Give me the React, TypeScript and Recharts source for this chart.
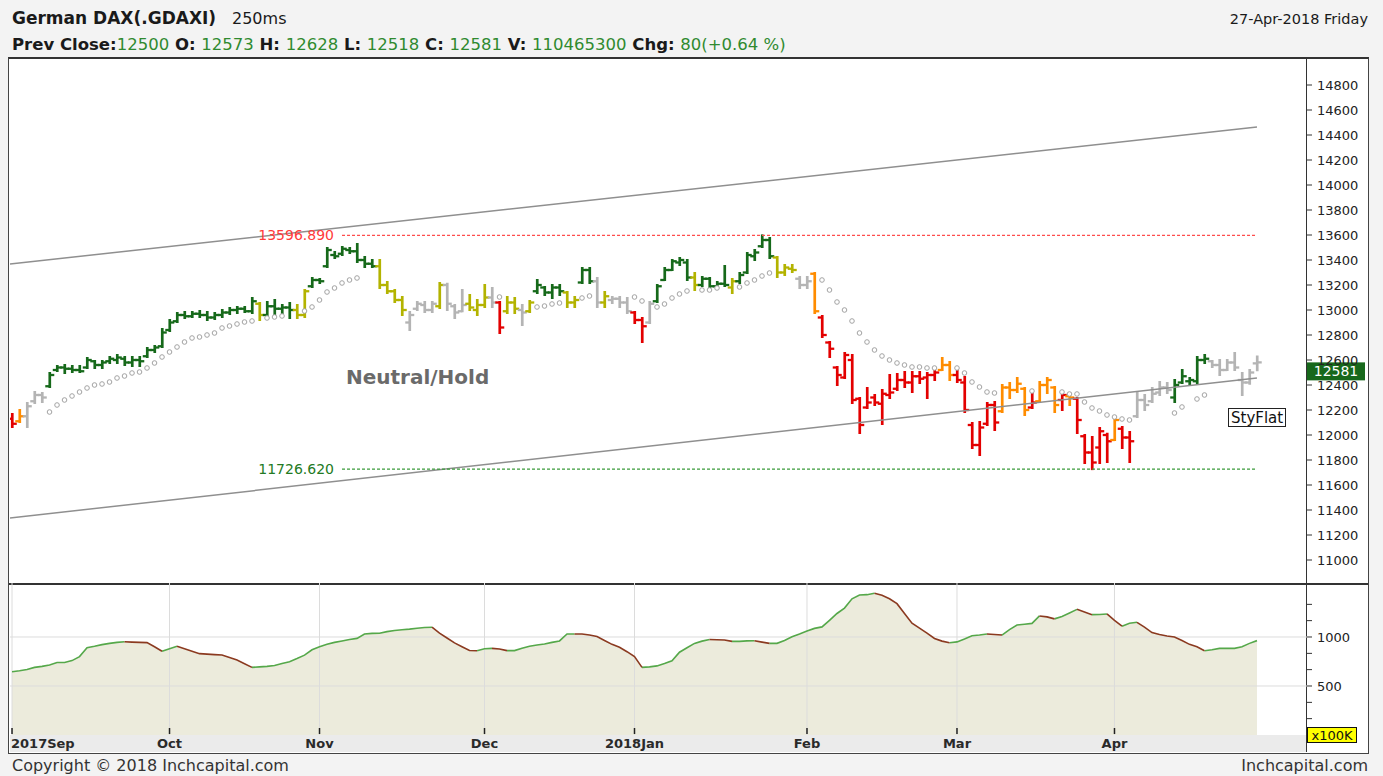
import React from 'react';
import { ComposedChart, Bar, Line, Area, XAxis, YAxis, ReferenceLine } from 'recharts';

const FONT = "'DejaVu Sans', Verdana, sans-serif";

// one letter per trading day: R red, O orange, Y olive, G green, N neutral grey
const signalRows =
  'RONNNGGGGG GGGGGGGGGG GGGGGGGGGG GGGYGGGGYY GGGGGGGGGY YYYNNNNYNN NYYYNRYYNY GGGGYYGGNY ' +
  'NNNRRNGGGG GYGGGGYGGG GGYYYNNORR RRRRRRRRRR RRRROORRRR RROOOOROOO RORRRRRORR NNNNNGGGGG NNNNNNN';
const signals = signalRows.replace(/ /g, '').split('');

const opens = [
  12130, 12110, 12150, 12270, 12320, 12390, 12520, 12540, 12530, 12520,
  12540, 12590, 12560, 12590, 12600, 12610, 12580, 12600, 12630, 12680,
  12710, 12840, 12910, 12960, 12950, 12970, 12960, 12940, 12960, 12980,
  13000, 13010, 12990, 13050, 12960, 13030, 13010, 13020, 13000, 12960,
  13190, 13240, 13350, 13440, 13450, 13480, 13470, 13400, 13370, 13350,
  13200, 13150, 13080, 12900, 13010, 13040, 13000, 13030, 13200, 13030,
  12990, 13050, 13000, 13040, 13100, 13060, 12990, 13060, 13000, 12990,
  13150, 13180, 13140, 13180, 13140, 13060, 13220, 13320, 13230, 13060,
  13080, 13090, 13060, 12980, 12920, 12900, 13070, 13240, 13320, 13380,
  13380, 13260, 13200, 13250, 13190, 13210, 13180, 13230, 13300, 13430,
  13510, 13560, 13420, 13300, 13330, 13250, 13200, 13290, 12940, 12740,
  12540, 12460, 12600, 12290, 12220, 12300, 12250, 12320, 12370, 12440,
  12420, 12470, 12460, 12480, 12520, 12560, 12480, 12420, 12080, 11920,
  12090, 12240, 12190, 12380, 12360, 12370, 12220, 12270, 12400, 12380,
  12280, 12310, 12290, 11990, 11860, 11900, 12000, 11960, 12050, 11980,
  12150, 12280, 12270, 12340, 12380, 12300, 12420, 12430, 12430, 12600,
  12590, 12560, 12520, 12580, 12440, 12420, 12573,
];

const highs = [
  12168, 12200, 12256, 12344, 12336, 12496, 12552, 12560, 12552, 12552,
  12616, 12592, 12592, 12624, 12640, 12624, 12624, 12624, 12696, 12712,
  12848, 12920, 12976, 12984, 12984, 12992, 12984, 12976, 13000, 13016,
  13024, 13024, 13096, 13056, 13064, 13080, 13040, 13056, 13040, 13160,
  13256, 13248, 13496, 13464, 13504, 13496, 13528, 13424, 13400, 13400,
  13224, 13160, 13104, 12984, 13064, 13064, 13064, 13216, 13210, 13040,
  13160, 13120, 13080, 13200, 13176, 13064, 13104, 13096, 13040, 13072,
  13240, 13184, 13200, 13200, 13144, 13104, 13336, 13336, 13256, 13144,
  13104, 13104, 13096, 12984, 12936, 13064, 13200, 13336, 13400, 13416,
  13400, 13296, 13264, 13256, 13224, 13352, 13248, 13296, 13456, 13480,
  13597, 13576, 13424, 13360, 13360, 13264, 13264, 13296, 12952, 12744,
  12544, 12656, 12640, 12296, 12376, 12320, 12360, 12480, 12488, 12504,
  12504, 12504, 12496, 12520, 12616, 12584, 12520, 12464, 12096, 12104,
  12256, 12264, 12400, 12416, 12456, 12376, 12360, 12424, 12456, 12384,
  12336, 12336, 12296, 12000, 11984, 12056, 12010, 12144, 12064, 12024,
  12336, 12320, 12376, 12424, 12416, 12440, 12520, 12456, 12624, 12640,
  12592, 12600, 12600, 12656, 12496, 12520, 12628,
];

const lows = [
  12064, 12104, 12064, 12256, 12264, 12384, 12512, 12496, 12504, 12504,
  12536, 12536, 12536, 12576, 12576, 12560, 12552, 12552, 12624, 12664,
  12704, 12832, 12904, 12936, 12944, 12944, 12920, 12928, 12944, 12968,
  12976, 12984, 12976, 12920, 12944, 12960, 12976, 12936, 12936, 12944,
  13184, 13216, 13344, 13416, 13440, 13456, 13384, 13344, 13344, 13176,
  13136, 13064, 12960, 12840, 13000, 12984, 12984, 13016, 13000, 12936,
  12990, 13000, 12960, 13024, 13024, 12816, 12976, 12976, 12880, 12984,
  13136, 13120, 13096, 13120, 13024, 13024, 13216, 13216, 13024, 13024,
  13056, 13024, 12976, 12896, 12744, 12896, 13064, 13240, 13320, 13360,
  13240, 13160, 13192, 13160, 13184, 13192, 13136, 13216, 13296, 13400,
  13504, 13416, 13264, 13280, 13304, 13176, 13176, 12976, 12784, 12624,
  12400, 12456, 12256, 12016, 12216, 12240, 12088, 12296, 12360, 12384,
  12344, 12416, 12296, 12440, 12520, 12440, 12424, 12184, 11896, 11840,
  12080, 12040, 12184, 12296, 12344, 12160, 12216, 12264, 12336, 12184,
  12200, 12240, 12016, 11776, 11727, 11776, 11784, 11960, 11896, 11784,
  12144, 12200, 12264, 12320, 12336, 12264, 12416, 12400, 12416, 12576,
  12544, 12480, 12520, 12520, 12320, 12410, 12518,
];

const closes = [
  12090, 12150, 12230, 12320, 12300, 12480, 12540, 12530, 12520, 12510,
  12600, 12560, 12580, 12610, 12620, 12580, 12600, 12590, 12680, 12700,
  12820, 12900, 12960, 12950, 12970, 12960, 12940, 12960, 12980, 13000,
  13010, 12990, 13070, 12960, 13030, 13010, 13020, 13000, 12960, 13150,
  13240, 13230, 13480, 13430, 13490, 13470, 13400, 13370, 13350, 13200,
  13150, 13080, 13000, 12960, 13050, 13000, 13050, 13200, 13050, 12980,
  13040, 13020, 13040, 13100, 13060, 12860, 13060, 13010, 12980, 13060,
  13200, 13140, 13180, 13150, 13060, 13080, 13320, 13230, 13060, 13110,
  13090, 13060, 12990, 12920, 12870, 13050, 13190, 13320, 13390, 13400,
  13260, 13200, 13250, 13190, 13210, 13200, 13230, 13280, 13440, 13460,
  13560, 13430, 13300, 13340, 13320, 13200, 13230, 12990, 12800, 12690,
  12480, 12640, 12280, 12080, 12260, 12260, 12330, 12340, 12440, 12420,
  12470, 12450, 12480, 12500, 12560, 12480, 12440, 12200, 11920, 12060,
  12240, 12100, 12380, 12360, 12410, 12200, 12260, 12400, 12440, 12240,
  12320, 12300, 12120, 11860, 11780, 12030, 11950, 12120, 11980, 11950,
  12280, 12240, 12330, 12380, 12360, 12400, 12470, 12440, 12600, 12610,
  12560, 12520, 12580, 12540, 12420, 12500, 12581,
];

// trailing average dots (blank where the picture shows none)
const maLine = [
  null, null, null, null, null, 12184, 12240, 12280, 12312, 12344,
  12376, 12400, 12408, 12424, 12456, 12472, 12496, 12504, 12536, 12576,
  12624, 12664, 12704, 12744, 12776, 12784, 12800, 12816, 12856, 12872,
  12888, 12904, 12912, null, 12936, 12944, 12952, null, null, 12992,
  13024, 13080, 13144, 13176, 13216, 13240, 13256, null, null, null,
  null, null, null, null, null, null, null, null, null, null,
  null, null, null, null, null, 13104, null, null, null, null,
  13024, 13032, 13048, 13056, null, null, 13096, 13112, null, null,
  null, null, null, 13104, 13072, null, 13024, 13048, 13096, 13128,
  13152, null, 13160, 13160, 13176, null, null, 13184, 13216, 13240,
  13272, 13296, null, null, null, null, null, null, 13240, 13160,
  13064, 13000, 12912, 12816, 12744, 12680, 12632, 12600, 12576, 12560,
  12544, 12544, 12536, 12536, null, null, 12536, 12496, 12424, 12384,
  12344, 12336, null, null, null, null, 12352, null, null, null,
  12344, 12328, 12328, 12264, 12216, 12192, 12160, 12144, 12128, 12120,
  null, null, null, null, null, 12176, 12224, null, 12288, 12320,
  null, null, null, null, null, null, null,
];

// smoothed volume, x100K
const volume = [
  646, 655, 668, 690, 700, 715, 740, 740, 759, 800,
  890, 905, 922, 935, 945, 952, 948, 945, 943, 900,
  855, 880, 905, 880, 855, 830, 825, 820, 816, 790,
  765, 728, 690, 695, 700, 710, 730, 748, 780, 815,
  870, 900, 925, 945, 960, 975, 986, 1030, 1037, 1038,
  1055, 1066, 1074, 1080, 1090, 1097, 1100, 1040, 990, 940,
  900, 862, 860, 880, 884, 878, 861, 861, 885, 905,
  918, 929, 945, 960, 1031, 1031, 1030, 1020, 1005, 965,
  925, 895, 850, 800, 690, 695, 705, 730, 758, 845,
  890, 935, 958, 975, 972, 969, 955, 955, 960, 962,
  948, 935, 935, 965, 1003, 1030, 1060, 1088, 1103, 1170,
  1240, 1295, 1390, 1429, 1432, 1446, 1425, 1390, 1340, 1240,
  1140, 1090, 1040, 985, 958, 942, 950, 980, 1012, 1020,
  1030, 1025, 1020, 1075, 1122, 1130, 1139, 1215, 1205, 1185,
  1210, 1245, 1282, 1255, 1228, 1230, 1235, 1170, 1110, 1140,
  1150, 1100, 1045, 1025, 1010, 1000, 965, 925, 900, 860,
  870, 884, 884, 884, 900, 935, 963,
];

const priceTicks = [11000, 11200, 11400, 11600, 11800, 12000, 12200, 12400, 12600, 12800, 13000, 13200, 13400, 13600, 13800, 14000, 14200, 14400, 14600, 14800];
const volTicks = [167, 333, 500, 667, 833, 1000, 1167, 1333];
const volLabels = [500, 1000];
const monthTicks = [0, 21, 41, 63, 83, 106, 126, 147];
const monthLabels = ['2017Sep', 'Oct', 'Nov', 'Dec', '2018Jan', 'Feb', 'Mar', 'Apr'];

const upperChannel = [13368, 14464];
const lowerChannel = [11336, 12456];
const resistance = 13596.89;
const support = 11726.62;
const levelStart = 44;
const lastClose = 12581;

const headerStats = [
  ['Prev Close:', '12500'],
  [' O: ', '12573'],
  [' H: ', '12628'],
  [' L: ', '12518'],
  [' C: ', '12581'],
  [' V: ', '110465300'],
  [' Chg: ', '80(+0.64 %)'],
];

const COLORS: Record<string, string> = {
  R: '#e30000',
  O: '#ff8c00',
  Y: '#b3b300',
  G: '#16691a',
  N: '#b4b4b4',
};

const xDomain = [-0.27, 172.67];
const priceDomain = [10816, 15016];
const volDomain = [0, 1551];
const last = closes.length - 1;

const rows = closes.map((c, i) => ({
  i,
  o: opens[i],
  h: highs[i],
  l: lows[i],
  c,
  range: [lows[i], highs[i]],
  sig: signals[i],
  ma: maLine[i],
}));

// split the volume line into rising / falling runs (alternating keys keep runs apart)
const volRows: any[] = volume.map((v, i) => ({ i, v, upA: null, upB: null, dnA: null, dnB: null }));
{
  let ups = 0;
  let downs = 0;
  let prevDir = 0;
  let key = '';
  for (let s = 1; s < volume.length; s++) {
    const d = volume[s] >= volume[s - 1] ? 1 : -1;
    if (d !== prevDir) {
      key = d > 0 ? (ups++ % 2 ? 'upB' : 'upA') : (downs++ % 2 ? 'dnB' : 'dnA');
      prevDir = d;
    }
    volRows[s - 1][key] = volume[s - 1];
    volRows[s][key] = volume[s];
  }
}

function OhlcShape(props: any) {
  const { x, y, width, height, payload } = props;
  if (x == null || y == null) return null;
  const top = Math.min(y, y + height);
  const h = Math.abs(height);
  const cx = x + width / 2;
  const span = payload.h - payload.l || 1;
  const yo = top + ((payload.h - payload.o) / span) * h;
  const yc = top + ((payload.h - payload.c) / span) * h;
  const col = COLORS[payload.sig];
  return (
    <g stroke={col} strokeWidth={2.7}>
      <line x1={cx} x2={cx} y1={top - 1} y2={top + h + 1} />
      <line x1={cx - 4.5} x2={cx} y1={yo} y2={yo} strokeWidth={2.3} />
      <line x1={cx} x2={cx + 4.5} y1={yc} y2={yc} strokeWidth={2.3} />
    </g>
  );
}

function MonthTick(props: any) {
  const { x, y, payload, index } = props;
  const label = monthLabels[monthTicks.indexOf(payload.value)];
  const first = index === 0;
  return (
    <g>
      <line x1={x} x2={x} y1={y - 7} y2={y - 1} stroke="#222" strokeWidth={1.5} />
      <text x={first ? 1 : x} y={y + 13} textAnchor={first ? 'start' : 'middle'} fill="#2a2a2a" fontSize={13} fontWeight="bold" fontFamily={FONT}>
        {label}
      </text>
    </g>
  );
}

function LastTag(props: any) {
  const { viewBox } = props;
  if (!viewBox) return null;
  const left = viewBox.x + viewBox.width;
  return (
    <g>
      <rect x={left} y={viewBox.y} width={58} height={18} fill="#17681b" />
      <text x={left + 29} y={viewBox.y + 14} textAnchor="middle" fill="#fff" fontSize={14} fontFamily={FONT}>
        {lastClose}
      </text>
    </g>
  );
}

const axisTick = { fill: '#222', fontSize: 13, fontFamily: FONT };

export default function App() {
  return (
    <div style={{ position: 'absolute', left: 0, top: 0, width: 1383, height: 776, background: '#f3f3f3', overflow: 'hidden' }}>
      <div style={{ position: 'absolute', left: 8, top: 57, width: 1359, height: 694, background: '#fff', borderLeft: '1px solid #444', borderRight: '1px solid #444', borderTop: '2px solid #333', borderBottom: '1px solid #444' }} />
      <div style={{ position: 'absolute', left: 10, top: 735, width: 1297, height: 17, background: '#ebebeb' }} />
      <div style={{ position: 'absolute', left: 9, top: 583, width: 1359, height: 2, background: '#333' }} />
      <div style={{ position: 'absolute', left: 1306, top: 58, width: 1, height: 694, background: '#333' }} />

      <div style={{ position: 'absolute', left: 10, top: 58 }}>
        <ComposedChart width={1358} height={525} data={rows} margin={{ top: 0, right: 0, bottom: 0, left: 0 }}>
          <XAxis type="number" dataKey="i" domain={xDomain} allowDataOverflow hide />
          <YAxis
            orientation="right"
            width={61}
            domain={priceDomain}
            allowDataOverflow
            ticks={priceTicks}
            interval={0}
            axisLine={false}
            tickSize={5}
            tickMargin={5}
            tickLine={{ stroke: '#333' }}
            tick={axisTick}
          />
          <ReferenceLine segment={[{ x: xDomain[0], y: upperChannel[0] }, { x: last, y: upperChannel[1] }]} stroke="#8f8f8f" strokeWidth={1.5} ifOverflow="visible" />
          <ReferenceLine segment={[{ x: xDomain[0], y: lowerChannel[0] }, { x: last, y: lowerChannel[1] }]} stroke="#8f8f8f" strokeWidth={1.5} ifOverflow="visible" />
          <ReferenceLine
            segment={[{ x: levelStart, y: resistance }, { x: last, y: resistance }]}
            stroke="#ff4d4d"
            strokeDasharray="3 2"
            strokeWidth={1.2}
            label={{ value: resistance.toFixed(3), position: 'left', offset: 8, fill: '#ff3b3b', fontSize: 14, fontFamily: FONT }}
          />
          <ReferenceLine
            segment={[{ x: levelStart, y: support }, { x: last, y: support }]}
            stroke="#3a9a3a"
            strokeDasharray="3 2"
            strokeWidth={1.2}
            label={{ value: support.toFixed(3), position: 'left', offset: 8, fill: '#237a23', fontSize: 14, fontFamily: FONT }}
          />
          <Line dataKey="ma" stroke="none" dot={{ r: 2.3, stroke: '#a3a3a3', strokeWidth: 1, fill: '#fff' }} activeDot={false} connectNulls={false} isAnimationActive={false} />
          <Bar dataKey="range" barSize={6} shape={(p: any) => <OhlcShape {...p} />} isAnimationActive={false} />
          <ReferenceLine y={lastClose} stroke="none" label={<LastTag />} />
        </ComposedChart>
      </div>

      <div style={{ position: 'absolute', left: 10, top: 583 }}>
        <ComposedChart width={1358} height={169} data={volRows} margin={{ top: 0, right: 0, bottom: 0, left: 0 }}>
          <XAxis
            type="number"
            dataKey="i"
            domain={xDomain}
            allowDataOverflow
            ticks={monthTicks}
            interval={0}
            height={17}
            axisLine={false}
            tickLine={false}
            tickSize={0}
            tickMargin={0}
            tick={<MonthTick />}
          />
          <YAxis
            orientation="right"
            width={61}
            domain={volDomain}
            allowDataOverflow
            ticks={volTicks}
            interval={0}
            axisLine={false}
            tickSize={5}
            tickMargin={5}
            tickLine={{ stroke: '#333' }}
            tick={axisTick}
            tickFormatter={(v: number) => (volLabels.includes(v) ? String(v) : '')}
          />
          <Area dataKey="v" type="linear" stroke="none" fill="#ecebdc" fillOpacity={1} isAnimationActive={false} />
          {monthTicks.map((t) => (
            <ReferenceLine key={t} x={t} stroke="#dcdcdc" />
          ))}
          {volLabels.map((v) => (
            <ReferenceLine key={v} y={v} stroke="#dcdcdc" />
          ))}
          <Line dataKey="upA" type="linear" stroke="#55a84a" strokeWidth={1.6} dot={false} activeDot={false} connectNulls={false} isAnimationActive={false} />
          <Line dataKey="upB" type="linear" stroke="#55a84a" strokeWidth={1.6} dot={false} activeDot={false} connectNulls={false} isAnimationActive={false} />
          <Line dataKey="dnA" type="linear" stroke="#8b3a20" strokeWidth={1.6} dot={false} activeDot={false} connectNulls={false} isAnimationActive={false} />
          <Line dataKey="dnB" type="linear" stroke="#8b3a20" strokeWidth={1.6} dot={false} activeDot={false} connectNulls={false} isAnimationActive={false} />
        </ComposedChart>
      </div>

      <svg width={1383} height={776} style={{ position: 'absolute', left: 0, top: 0, pointerEvents: 'none' }}>
        <text x={12} y={24} fontSize={17} fontWeight="bold" fill="#1a1a1a" fontFamily={FONT}>German DAX(.GDAXI)</text>
        <text x={232} y={24} fontSize={16} fill="#1a1a1a" fontFamily={FONT}>250ms</text>
        <text x={1368} y={24} fontSize={14.5} fill="#1a1a1a" textAnchor="end" fontFamily={FONT}>27-Apr-2018 Friday</text>
        <text x={12} y={50} fontSize={16.5} fontFamily={FONT} style={{ whiteSpace: 'pre' }}>
          {headerStats.map(([k, v]) => (
            <React.Fragment key={k}>
              <tspan fontWeight="bold" fill="#1a1a1a">{k}</tspan>
              <tspan fill="#2f8a2f">{v}</tspan>
            </React.Fragment>
          ))}
        </text>
        <text x={346} y={384} fontSize={20} fontWeight="bold" fill="#6a6a6a" fontFamily={FONT}>Neutral/Hold</text>
        <rect x={1228.5} y={408.5} width={57} height={18} fill="#fff" stroke="#222" />
        <text x={1231} y={423} fontSize={15} fill="#111" fontFamily={FONT}>StyFlat</text>
        <rect x={1307.5} y={727.5} width={49} height={15} fill="#ffff00" stroke="#111" />
        <text x={1332} y={740} fontSize={13} fill="#111" textAnchor="middle" fontFamily={FONT}>x100K</text>
        <text x={12} y={771} fontSize={16} fill="#333" fontFamily={FONT}>Copyright © 2018 Inchcapital.com</text>
        <text x={1368} y={771} fontSize={16} fill="#333" textAnchor="end" fontFamily={FONT}>Inchcapital.com</text>
      </svg>
    </div>
  );
}
